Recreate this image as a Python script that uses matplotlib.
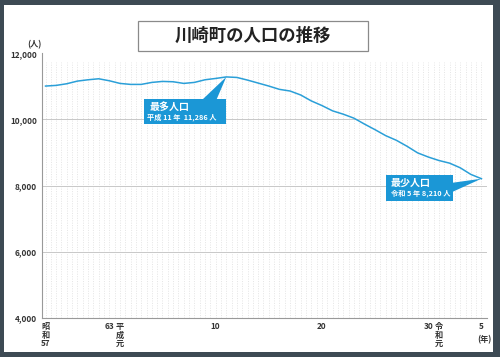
import matplotlib
matplotlib.use("Agg")
import matplotlib.pyplot as plt
from matplotlib.patches import Rectangle, Polygon
import numpy as np

plt.rcParams['font.family'] = ['Noto Sans CJK JP', 'DejaVu Sans']

# ---- data ----
years = list(range(1982, 2024))
population = [11010, 11030, 11080, 11160, 11200, 11230, 11170, 11090, 11060, 11060,
              11120, 11150, 11140, 11090, 11120, 11200, 11240, 11286, 11270, 11190,
              11100, 11010, 10910, 10860, 10740, 10560, 10420, 10260, 10160, 10040,
              9860, 9690, 9510, 9370, 9190, 8990, 8865, 8760, 8680, 8540, 8340, 8210]
tick_years = [1982, 1988, 1989, 1998, 2008, 2018, 2019, 2023]
tick_texts = ["昭\n和\n57", "63", "平\n成\n元", "10", "20", "30", "令\n和\n元", "5"]
y_ticks = [4000, 6000, 8000, 10000, 12000]
title = "川崎町の人口の推移"
max_label = ("最多人口", "平成 11 年  11,286 人")
min_label = ("最少人口", "令和 5 年 8,210 人")

W, H, DPI = 500, 357, 100
fig = plt.figure(figsize=(W / DPI, H / DPI), dpi=DPI, facecolor='#3d4a54')

# white panel
fig.patches.append(Rectangle((4 / W, (H - 352) / H), (493 - 4) / W, (352 - 5) / H,
                             transform=fig.transFigure, facecolor='white',
                             edgecolor='none', zorder=-10))

ax_l, ax_r, ax_top, ax_bot = 41.7, 487, 53.3, 318
ax = fig.add_axes([ax_l / W, (H - ax_bot) / H, (ax_r - ax_l) / W, (ax_bot - ax_top) / H])
ax.set_zorder(1)
ax.set_facecolor('none')
ax.set_xlim(1981.64, 2023.52)
ax.set_ylim(4000, 12000)

line_c = '#2a9fd8'
box_c = '#1b97d6'

# grid
half_years = np.arange(years[0], years[-1] + 0.01, 0.5)
for hx in half_years:
    ax.plot([hx, hx], [4000, 11750], color='#dcdcdc', lw=0.5, ls=(0, (1.5, 2)), zorder=1)
for yt in y_ticks[1:-1]:
    ax.axhline(yt, color='#c8c8c8', lw=0.7, zorder=1)

ax.plot(years, population, color=line_c, lw=1.1, zorder=3, solid_joinstyle='round')

for s in ['top', 'right']:
    ax.spines[s].set_visible(False)
for s in ['left', 'bottom']:
    ax.spines[s].set_color('#999999')
    ax.spines[s].set_linewidth(0.8)

ax.set_yticks(y_ticks)
ax.set_yticklabels([f"{v:,}" for v in y_ticks], fontsize=5.9, fontweight='bold', color='#333333')
ax.tick_params(axis='y', length=0, pad=3.5)
ax.set_xticks([])

# x labels
xt = ax.get_xaxis_transform()
for ty, tt in zip(tick_years, tick_texts):
    ax.annotate(tt, xy=(ty, 0), xycoords=xt, xytext=(0, -4), textcoords='offset pixels',
                fontsize=5.9, fontweight='bold', color='#333333', ha='center', va='top',
                linespacing=0.95, annotation_clip=False)
ax.annotate("(年)", xy=(years[-1], 0), xycoords=xt, xytext=(3, -17), textcoords='offset pixels',
            fontsize=5.9, fontweight='bold', color='#333333', ha='center', va='top',
            annotation_clip=False)
ax.annotate("(人)", xy=(0, 1), xycoords='axes fraction', xytext=(-7, 4), textcoords='offset pixels',
            fontsize=5.9, fontweight='bold', color='#333333', ha='center', va='bottom',
            annotation_clip=False)

# title box
fig.patches.append(Rectangle((137.7 / W, (H - 50.7) / H), (368.3 - 137.7) / W, (50.7 - 21) / H,
                             transform=fig.transFigure, facecolor='white',
                             edgecolor='#8a8a8a', lw=0.9, zorder=2))
fig.text(253 / W, (H - 36) / H, title, fontsize=12.5, fontweight='bold', color='#222222',
         ha='center', va='center', zorder=3)

# callouts
fig.canvas.draw()
imax = int(np.argmax(population))
imin = int(np.argmin(population))

def callout(i, box, tri, l1, l2, t1, t2):
    px, py = ax.transData.transform((years[i], population[i]))
    x0, x1, y0, y1 = box
    fig.patches.append(Rectangle((px + x0, py + y0), x1 - x0, y1 - y0, transform=None,
                                 facecolor=box_c, edgecolor='none', zorder=5))
    fig.patches.append(Polygon([(px + tri[0][0], py + tri[0][1]),
                                (px + tri[1][0], py + tri[1][1]), (px, py)],
                               closed=True, transform=None, facecolor=box_c,
                               edgecolor='none', zorder=5))
    fig.text((px + t1[0]) / W, (py + t1[1]) / H, l1, fontsize=7.2, fontweight='bold',
             color='white', ha='left', va='center', zorder=6)
    fig.text((px + t2[0]) / W, (py + t2[1]) / H, l2, fontsize=5.2, fontweight='bold',
             color='white', ha='left', va='center', zorder=6)

callout(imax, (-82.7, -0.7, -47.3, -22.3), ((-23.7, -22.5), (-9.7, -22.5)),
        max_label[0], max_label[1], (-77, -30), (-79, -40.5))
callout(imin, (-95, -28.4, -22, 4), ((-28.6, -4), (-28.6, -13)),
        min_label[0], min_label[1], (-90.5, -4), (-90.5, -15))

fig.savefig("out.png", dpi=DPI, facecolor=fig.get_facecolor())
